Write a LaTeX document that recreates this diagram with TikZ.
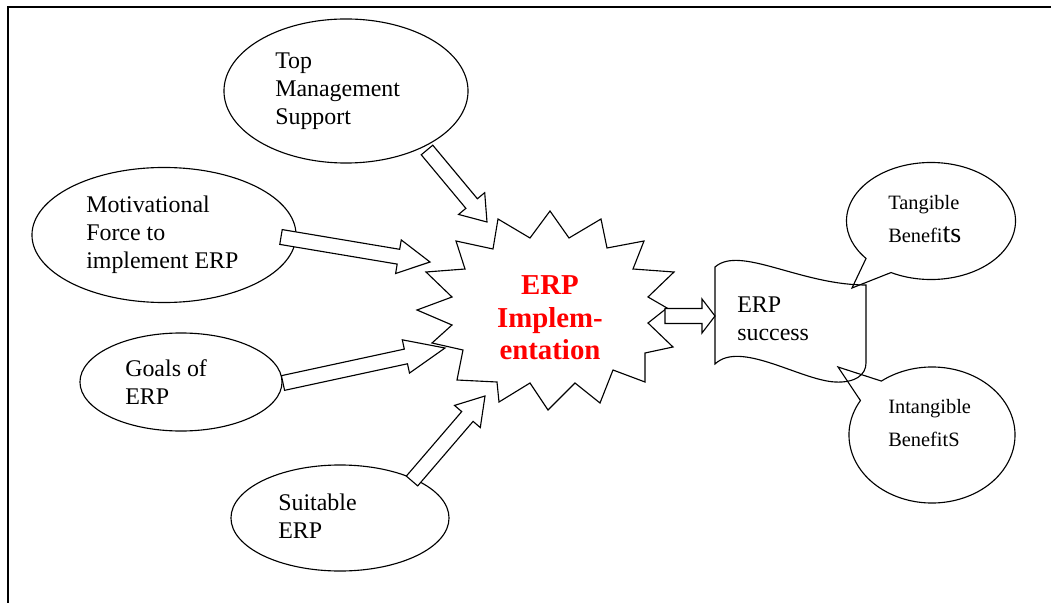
\documentclass[tikz,border=0pt]{standalone}
\usepackage{fontspec}
\setmainfont{Liberation Serif}
\usetikzlibrary{shapes.geometric, shapes.callouts, calc, positioning}

\newcommand{\blockarrow}[3]{%
  \coordinate (neck) at ($(#2)!#3!(#1)$);
  \draw[blk] ($(#1)!0.1875cm!90:(#2)$) -- ($(neck)!0.1875cm!90:(#2)$)
    -- ($(neck)!0.425cm!90:(#2)$) -- (#2)
    -- ($(neck)!0.425cm!-90:(#2)$) -- ($(neck)!0.1875cm!-90:(#2)$)
    -- ($(#1)!0.1875cm!-90:(#2)$) -- cycle;
}

\begin{document}
\begin{tikzpicture}[
  x=0.025cm, y=-0.025cm,
  bubble/.style={ellipse, draw, line width=0.8pt, inner sep=0pt},
  callbubble/.style={ellipse callout, draw, line width=0.8pt, inner sep=0pt,
                     callout pointer arc=22},
  txt/.style={anchor=west, align=left, inner sep=0pt,
              font=\fontsize{17}{20}\selectfont},
  smalltxt/.style={anchor=west, align=left, inner sep=0pt,
                   font=\fontsize{14.5}{24}\selectfont},
  blk/.style={draw, fill=white, line width=0.8pt, line join=miter}
]
  \useasboundingbox (0,0) rectangle (1051,603);
  \draw[line width=1.4pt] (8,603) -- (8,7) -- (1051,7);

  \node[bubble, minimum width=6.1cm, minimum height=3.6cm] (tms) at (346,91) {};
  \node[txt] (tms-t) at (275,91) {Top\\Management\\Support};

  \node[bubble, minimum width=6.6cm, minimum height=3.375cm] (mot) at (164,235) {};
  \node[txt] (mot-t) at (86,235) {Motivational\\Force to\\implement ERP};

  \node[bubble, minimum width=5.05cm, minimum height=2.45cm] (goals) at (181,382) {};
  \node[txt] (goals-t) at (125,382) {Goals of\\ERP};

  \node[bubble, minimum width=5.45cm, minimum height=2.65cm] (suit) at (340,518) {};
  \node[txt] (suit-t) at (278,516) {Suitable\\ERP};

  \draw[line width=0.8pt, line join=miter]
    (550,211) -- (569,238) -- (601,219) -- (607,248) -- (644,241) -- (633,269)
    -- (674,272) -- (648,297) -- (667,308) -- (648,323) -- (673,347) -- (645,353)
    -- (645,382) -- (613,370) -- (600,403) -- (575,383) -- (548,410) -- (530,383)
    -- (499,402) -- (497,382) -- (457,380) -- (463,350) -- (432,343) -- (452,325)
    -- (417,310) -- (452,297) -- (426,272) -- (465,269) -- (456,241) -- (493,249)
    -- (498,219) -- (530,238) -- cycle;
  \node[align=center, text=red, inner sep=0pt,
        font=\fontsize{20.5}{23}\selectfont\bfseries] (impl) at (550,318)
    {ERP\\Implem-\\entation};

  \draw[line width=0.8pt]
    (715,267) -- (715,364)
    .. controls (740,340) and (800,380) .. (835,382)
    .. controls (855,383) and (866,375) .. (866,363)
    -- (866,285)
    .. controls (800,285) and (740,245) .. (715,267) -- cycle;
  \node[txt] (succ) at (737,319) {ERP\\success};

  \node[callbubble, minimum width=4.225cm, minimum height=2.925cm,
        callout absolute pointer={(852,288)}] (tang) at (931,221) {};
  \node[smalltxt] (tang-t) at (888,219)
    {Tangible\\Benefi{\fontsize{20}{24}\selectfont ts}};

  \node[callbubble, minimum width=4.15cm, minimum height=3.4cm,
        callout absolute pointer={(838,367)}] (intang) at (932,435) {};
  \node[smalltxt] (intang-t) at (888,423) {Intangible\\BenefitS};

  \coordinate (tms-a) at (427,150);
  \coordinate (tms-b) at (487,222);
  \coordinate (mot-a) at (281,237);
  \coordinate (mot-b) at (430,262);
  \coordinate (goals-a) at (283,383);
  \coordinate (goals-b) at (445,348);
  \coordinate (suit-a) at (412,481);
  \coordinate (suit-b) at (485,396);
  \coordinate (impl-a) at (665,316);
  \coordinate (succ-b) at (715,316);

  \blockarrow{tms-a}{tms-b}{0.6cm}
  \blockarrow{mot-a}{mot-b}{0.8cm}
  \blockarrow{goals-a}{goals-b}{1cm}
  \blockarrow{suit-a}{suit-b}{0.675cm}
  \blockarrow{impl-a}{succ-b}{0.325cm}
\end{tikzpicture}
\end{document}
